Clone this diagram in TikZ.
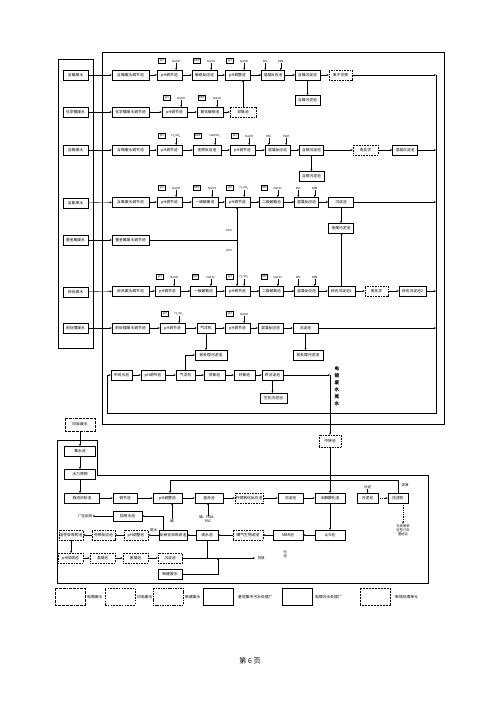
\documentclass[tikz,border=0pt]{standalone}
\usepackage{fontspec}
\setmainfont{Noto Sans CJK SC}
\usetikzlibrary{arrows.meta,calc}
\tikzset{
 pb/.style={draw, line width=0.35pt, minimum height=9.5pt, inner sep=0pt, font=\fontsize{3.8}{4}\selectfont, fill=white},
 nb/.style={pb, dash pattern=on 0.9pt off 0.7pt},
 sens/.style={draw, line width=0.3pt, minimum height=4.5pt, minimum width=6.5pt, inner sep=0.3pt, font=\fontsize{2.8}{3}\selectfont},
 chl/.style={inner sep=0pt, font=\fontsize{2.8}{3}\selectfont},
 tl/.style={inner sep=0.3pt, font=\fontsize{3.5}{4}\selectfont},
 arr/.style={line width=0.35pt, -{Stealth[length=2.2pt,width=1.8pt]}},
 ln/.style={line width=0.35pt},
 frame/.style={line width=0.55pt},
 ddot/.style={dash pattern=on 2pt off 0.8pt on 0.5pt off 0.8pt},
 ldash/.style={dash pattern=on 1.6pt off 1.2pt},
 sdash/.style={dash pattern=on 1.1pt off 0.6pt},
 fdot/.style={dash pattern=on 0.8pt off 0.7pt},
}
\newcommand\dosing[3]{%
  \node[sens, anchor=south west] (#1s) at ([xshift=1.5pt,yshift=7pt]#1.north west) {#2};
  \node[chl, anchor=south] (#1c) at ([xshift=-6pt,yshift=7pt]#1.north east) {#3};
  \draw[arr] (#1c.south) -- (#1c.south |- #1.north);
}
\newcommand\pacpam[1]{%
  \node[chl, anchor=south] (#1p) at ([xshift=4pt,yshift=7pt]#1.north west) {PAC};
  \node[chl, anchor=south] (#1m) at ([xshift=-4pt,yshift=7pt]#1.north east) {PAM};
  \draw[arr] (#1p.south) -- (#1p.south |- #1.north);
  \draw[arr] (#1m.south) -- (#1m.south |- #1.north);
}
\begin{document}
\begin{tikzpicture}[x=1pt,y=-1pt]
\path[use as bounding box, fill=white] (0,0) rectangle (500,707);

% ---------- frames of the upper part
\draw[frame] (102,52) rectangle (444,424);
\draw[frame] (58,59) rectangle (93,348);

% ---------- sources
\node[pb, minimum width=25pt] (s1) at (75.5,75) {含镍废水};
\node[pb, minimum width=25pt] (s2) at (75.5,112) {化学镀废水};
\node[pb, minimum width=25pt] (s3) at (75.5,150) {含铬废水};
\node[pb, minimum width=25pt] (s4) at (75.5,203) {含氰废水};
\node[pb, minimum width=25pt] (s5) at (75.5,240) {重金属废水};
\node[pb, minimum width=25pt] (s6) at (75.5,292) {综合废水};
\node[pb, minimum width=25pt] (s7) at (75.5,328) {前处理废水};

\coordinate (colx) at (436,75);

% ---------- row 1
\node[pb, minimum width=37pt] (a1) at (130.5,75) {含镍废水调节池};
\node[pb, minimum width=25pt] (b1) at (169.5,75) {pH调节池};
\node[pb, minimum width=25pt] (c1) at (204.5,75) {破络反应池};
\node[pb, minimum width=25pt] (d1) at (237.5,75) {pH调整池};
\node[pb, minimum width=23pt] (e1) at (273,75) {混凝反应池};
\node[pb, minimum width=25pt] (f1) at (307.5,75) {含镍沉淀池};
\node[nb, minimum width=23pt] (g1) at (340.5,75) {离子交换};
\node[pb, minimum width=25pt] (h1) at (307.5,100) {含镍污泥池};
\dosing{b1}{pH}{NaOH}
\dosing{c1}{ORP}{NaClO}
\dosing{d1}{pH}{NaOH}
\pacpam{e1}
\draw[arr] (s1) -- (a1);
\draw[arr] (a1) -- (b1);
\draw[arr] (b1) -- (c1);
\draw[arr] (c1) -- (d1);
\draw[arr] (d1) -- (e1);
\draw[arr] (e1) -- (f1);
\draw[arr] (f1) -- (g1);
\draw[arr] (g1) -- (g1 -| colx);
\draw[arr] (f1) -- (h1);

% ---------- row 2
\node[pb, minimum width=37pt] (a2) at (130.5,112) {化学镀废水调节池};
\node[pb, minimum width=25pt] (b2) at (174.5,112) {pH调节池};
\node[pb, minimum width=26pt] (c2) at (210,112) {氧化破络池};
\node[nb, minimum width=26pt] (d2) at (243,112) {双氧池};
\dosing{b2}{pH}{NaOH}
\dosing{c2}{ORP}{NaClO}
\draw[arr] (s2) -- (a2);
\draw[arr] (a2) -- (b2);
\draw[arr] (b2) -- (c2);
\draw[arr] (c2) -- (d2);
\draw[arr] (d2.north) -- (d2.north |- d1.south);

% ---------- row 3
\node[pb, minimum width=37pt] (a3) at (130.5,150) {含铬废水调节池};
\node[pb, minimum width=25pt] (b3) at (169.5,150) {pH调节池};
\node[pb, minimum width=28pt] (c3) at (207,150) {还原反应池};
\node[pb, minimum width=25pt] (d3) at (242.5,150) {pH调节池};
\node[pb, minimum width=25pt] (e3) at (277.5,150) {混凝反应池};
\node[pb, minimum width=24pt] (f3) at (311.5,150) {含铬沉淀池};
\node[nb, minimum width=25pt] (g3) at (365.5,150) {电化学};
\node[pb, minimum width=25pt] (h3) at (405,150) {混凝沉淀池};
\node[pb, minimum width=25pt] (i3) at (311.5,176) {含铬污泥池};
\dosing{b3}{pH}{H\textsubscript{2}SO\textsubscript{4}}
\dosing{c3}{ORP}{NaHSO\textsubscript{3}}
\dosing{d3}{pH}{NaOH}
\pacpam{e3}
\draw[arr] (s3) -- (a3);
\draw[arr] (a3) -- (b3);
\draw[arr] (b3) -- (c3);
\draw[arr] (c3) -- (d3);
\draw[arr] (d3) -- (e3);
\draw[arr] (e3) -- (f3);
\draw[arr] (f3) -- (g3);
\draw[arr] (g3) -- (h3);
\draw[arr] (h3) -- (h3 -| colx);
\draw[arr] (f3) -- (i3);

% ---------- row 4
\node[pb, minimum width=37pt] (a4) at (130.5,202) {含氰废水调节池};
\node[pb, minimum width=25pt] (b4) at (169.5,202) {pH调节池};
\node[pb, minimum width=26pt] (c4) at (205,202) {一级破氰池};
\node[pb, minimum width=25pt] (d4) at (237.5,202) {pH调节池};
\node[pb, minimum width=24pt] (e4) at (271.5,202) {二级破氰池};
\node[pb, minimum width=24pt] (f4) at (306.5,202) {混凝反应池};
\node[pb, minimum width=25pt] (g4) at (341,202) {沉淀池};
\node[pb, minimum width=25pt] (h4) at (341,228) {金属污泥池};
\dosing{b4}{pH}{NaOH}
\dosing{c4}{ORP}{NaClO}
\dosing{d4}{pH}{H\textsubscript{2}SO\textsubscript{4}}
\dosing{e4}{ORP}{NaClO}
\pacpam{f4}
\draw[arr] (s4) -- (a4);
\draw[arr] (a4) -- (b4);
\draw[arr] (b4) -- (c4);
\draw[arr] (c4) -- (d4);
\draw[arr] (d4) -- (e4);
\draw[arr] (e4) -- (f4);
\draw[arr] (f4) -- (g4);
\draw[arr] (g4) -- (g4 -| colx);
\draw[arr] (g4) -- (h4);

% ---------- row 5
\node[pb, minimum width=37pt] (a5) at (130.5,240) {重金属废水调节池};
\draw[arr] (s5) -- (a5);
\coordinate (j5) at (237,240);
\draw[ln] (a5) -- (j5);

% ---------- row 6
\node[pb, minimum width=37pt] (a6) at (130.5,291) {综合废水调节池};
\node[pb, minimum width=25pt] (b6) at (167.5,291) {pH调节池};
\node[pb, minimum width=26pt] (c6) at (203.5,291) {一级破氰池};
\node[pb, minimum width=25pt] (d6) at (237.5,291) {pH调节池};
\node[pb, minimum width=24pt] (e6) at (271.5,291) {二级破氰池};
\node[pb, minimum width=24pt] (f6) at (306.5,291) {混凝反应池};
\node[pb, minimum width=27pt] (g6) at (341.5,291) {综合沉淀池1};
\node[nb, minimum width=23pt] (h6) at (376.5,291) {电化学};
\node[pb, minimum width=27pt] (i6) at (412.5,291) {综合沉淀池2};
\dosing{b6}{pH}{NaOH}
\dosing{c6}{ORP}{NaClO}
\dosing{d6}{pH}{H\textsubscript{2}SO\textsubscript{4}}
\dosing{e6}{ORP}{NaClO}
\pacpam{f6}
\draw[arr] (s6) -- (a6);
\draw[arr] (a6) -- (b6);
\draw[arr] (b6) -- (c6);
\draw[arr] (c6) -- (d6);
\draw[arr] (d6) -- (e6);
\draw[arr] (e6) -- (f6);
\draw[arr] (f6) -- (g6);
\draw[arr] (g6) -- (h6);
\draw[arr] (h6) -- (i6);
\draw[arr] (i6) -- (i6 -| colx);
\draw[arr] (g6.north) -- (g6.north |- h4.south);

% split of row 5
\draw[arr] (j5) -- (j5 |- d4.south);
\draw[arr] (j5) -- (j5 |- d6.north);
\node[chl] (pc1) at (229,230) {30\%};
\node[chl] (pc2) at (229,250) {30\%};

% ---------- row 7
\node[pb, minimum width=37pt] (a7) at (130.5,328) {前处理废水调节池};
\node[pb, minimum width=25pt] (b7) at (172.5,328) {pH调节池};
\node[pb, minimum width=18pt] (c7) at (206,328) {气浮机};
\node[pb, minimum width=25pt] (d7) at (237.5,328) {pH调节池};
\node[pb, minimum width=25pt] (e7) at (270.5,328) {混凝反应池};
\node[pb, minimum width=25pt] (f7) at (305.5,328) {沉淀池};
\node[pb, minimum width=32pt] (p1) at (211,355) {前处理污泥池};
\node[pb, minimum width=30pt] (p2) at (308,355) {前处理污泥池};
\dosing{b7}{pH}{H\textsubscript{2}SO\textsubscript{4}}
\dosing{d7}{pH}{NaOH}
\draw[arr] (s7) -- (a7);
\draw[arr] (a7) -- (b7);
\draw[arr] (b7) -- (c7);
\draw[arr] (c7) -- (d7);
\draw[arr] (d7) -- (e7);
\draw[arr] (e7) -- (f7);
\draw[arr] (f7) -- (f7 -| colx);
\draw[arr] (c7.south) -- (c7.south |- p1.north);
\draw[arr] (f7.south) -- (f7.south |- p2.north);

% ---------- row 8
\node[pb, minimum width=21pt] (m1) at (121.5,375) {中间水池};
\node[pb, minimum width=24pt] (m2) at (153,375) {pH调节池};
\node[pb, minimum width=19pt] (m3) at (185.5,375) {气浮机};
\node[pb, minimum width=21pt] (m4) at (214.5,375) {厌氧池};
\node[pb, minimum width=21pt] (m5) at (244.5,375) {好氧池};
\node[pb, minimum width=21pt] (m6) at (272.5,375) {终沉淀池};
\node[pb, minimum width=27pt] (m7) at (273.5,398) {生化污泥池};
\draw[arr] (m1) -- (m2);
\draw[arr] (m2) -- (m3);
\draw[arr] (m3) -- (m4);
\draw[arr] (m4) -- (m5);
\draw[arr] (m5) -- (m6);
\draw[arr] (m6.south) -- (m6.south |- m7.north);
\draw[arr] (m3.north) |- (p1.west);

% collector and return
\coordinate (cbot) at (436,413);
\coordinate (cbl) at (107,413);
\draw[arr] (colx) -- (cbot) -- (cbl) -- (cbl |- m1) -- (m1);

% tail water to transfer tank
\coordinate (w1) at (330,375);
\draw[arr] (m6) -- (w1);
\node[align=center, inner sep=0pt, font=\fontsize{4.6}{7}\selectfont\bfseries] (vt) at (337,386) {电\\镀\\废\\水\\尾\\水};
\node[nb, minimum width=22pt, minimum height=12pt] (zz) at (330,441) {中转池};
\draw[arr] (w1) -- (zz);

% ---------- lower part
\draw[frame] (57,440) -- (97,440) -- (97,475) -- (428,475) -- (428,583) -- (57,583) -- cycle;
\node[pb, ddot, minimum width=30pt, minimum height=13pt] (yr) at (80,424.5) {印染废水};
\node[pb, minimum width=31pt] (q1) at (80,451) {集水池};
\node[pb, minimum width=31pt] (q2) at (80,474) {水力筛网};
\node[pb, minimum width=35pt] (q3) at (82,498) {旋流沉砂池};
\node[pb, minimum width=24pt] (q4) at (125,498) {调节池};
\node[pb, minimum width=29pt] (q5) at (167.5,498) {pH调整池};
\node[pb, minimum width=28pt] (q6) at (209,498) {混合池};
\node[nb, minimum width=28pt] (q7) at (249,498) {芬顿氧化反应池};
\node[pb, minimum width=25pt] (q8) at (290.5,498) {沉淀池};
\node[pb, minimum width=30pt] (q9) at (330,498) {水解酸化池};
\node[pb, minimum width=21pt] (q10) at (367.5,498) {污泥池};
\node[pb, minimum width=20pt] (q11) at (398,498) {压滤机};
\draw[arr] (yr) -- (q1);
\draw[arr] (q1) -- (q2);
\draw[arr] (q2.south) -- (q2.south |- q3.north);
\draw[arr] (q3) -- (q4);
\draw[arr] (q4) -- (q5);
\draw[arr] (q5) -- (q6);
\draw[arr] (q6) -- (q7);
\draw[arr] (q7) -- (q8);
\draw[arr] (q8) -- (q9);
\draw[arr] (zz) -- (q9);
\draw[arr, dash pattern=on 1pt off 0.8pt] (q10) -- (q11);
\node[tl] (wn) at (367.5,487) {污泥};
\draw[arr] (wn.south) -- (wn.south |- q10.north);
\coordinate (rl) at (170,480);
\draw[arr] (q11.north) |- (rl) -- (rl |- q5.north);
\node[tl, anchor=west] (lq) at (401,485.5) {滤液};
\node[tl, align=center, font=\fontsize{3.3}{4.2}\selectfont] (dis) at (403,530) {与资质单\\位签订处\\置协议};
\coordinate (dx) at (403,503);
\draw[arr, dash pattern=on 1pt off 0.8pt] (dx) -- (dx |- dis.north);
\node[tl] (jn) at (172,521) {碱};
\draw[arr] (jn.north) -- (jn.north |- q5.south);
\node[tl, align=center] (jp) at (208,519.5) {碱、PAM、\\PAC};
\draw[arr] (jp.north) -- (jp.north |- q6.south);

% row L2
\node[pb, minimum width=29pt] (r1) at (127.5,516) {回用水池};
\node[tl] (cq) at (85,516) {厂区回用};
\draw[arr] (r1) -- (cq);

% row L3
\node[nb, minimum width=24pt] (t1) at (71,535) {活性炭吸附池};
\node[nb, minimum width=23pt] (t2) at (103.5,535) {芬顿反应池};
\node[nb, minimum width=24pt] (t3) at (136,535) {pH调整池};
\node[pb, minimum width=28pt] (t4) at (173,535) {反硝化深床滤池};
\node[pb, minimum width=22pt] (t5) at (207,535) {清水池};
\node[nb, minimum width=30pt] (t6) at (248,535) {曝气生物滤池};
\node[pb, minimum width=30pt] (t7) at (288,535) {MBR池};
\node[pb, minimum width=30pt] (t8) at (330,535) {A/O池};
\draw[arr] (q9) -- (t8);
\draw[arr] (t8) -- (t7);
\draw[arr] (t7) -- (t6);
\draw[arr] (t6) -- (t5);
\draw[arr] (t5) -- (t4);
\draw[arr] (t4) -- (t3);
\draw[arr] (t3) -- (t2);
\draw[arr] (t2) -- (t1);
\node[tl] (ws) at (153.5,530) {尾水};
\coordinate (x163) at (163,516);
\draw[arr] (x163 |- t4.north) -- (x163) -- (r1.east);
\node[tl, align=center, font=\fontsize{3.5}{4.2}\selectfont] (wn2) at (285,554) {污\\泥};

% row L4
\node[nb, minimum width=25pt] (u1) at (70.5,558) {pH回调池};
\node[nb, minimum width=25pt] (u2) at (102.5,558) {混凝池};
\node[nb, minimum width=25pt] (u3) at (135.5,558) {絮凝池};
\node[nb, minimum width=24pt] (u4) at (170,558) {沉淀池};
\coordinate (pf) at (255,558);
\node[tl, anchor=west] (pt) at (257,558) {排放};
\draw[arr] (t1.south) -- (t1.south |- u1.north);
\draw[arr] (u1) -- (u2);
\draw[arr] (u2) -- (u3);
\draw[arr] (u3) -- (u4);
\draw[arr] (u4) -- (pf);
\draw[ln] (t5.south) -- (t5.south |- pf);
\node[pb, minimum width=24pt] (v1) at (170,574) {新建废水};
\coordinate (vj) at (218,574);
\draw[arr] (v1) -- (vj) -- (vj |- pf);

% ---------- legend
\tikzset{lgb/.style={draw, line width=0.45pt, minimum width=30pt, minimum height=17pt, inner sep=0pt}, lgt/.style={anchor=west, inner sep=0pt, font=\fontsize{3.8}{4}\selectfont}}
\node[lgb, ddot] (lg1) at (70,596.5) {};
\node[lgt] (lg1t) at (87,597) {电镀废水};
\node[lgb, ldash] (lg2) at (120,596.5) {};
\node[lgt] (lg2t) at (137,597) {印染废水};
\node[lgb, sdash] (lg3) at (168,596.5) {};
\node[lgt] (lg3t) at (185,597) {新建废水};
\node[lgb] (lg4) at (218,596.5) {};
\node[lgt] (lg4t) at (238,597) {基地集中污水处理厂};
\node[lgb] (lg5) at (297,596.5) {};
\node[lgt] (lg5t) at (315,597) {电镀污水处理厂};
\node[lgb, fdot] (lg6) at (375,596.5) {};
\node[lgt] (lg6t) at (395,597) {新增处理单元};

% page number
\node[inner sep=0pt, font=\fontsize{7}{8}\selectfont] (pg) at (250,661) {第 6 页};
\end{tikzpicture}
\end{document}
